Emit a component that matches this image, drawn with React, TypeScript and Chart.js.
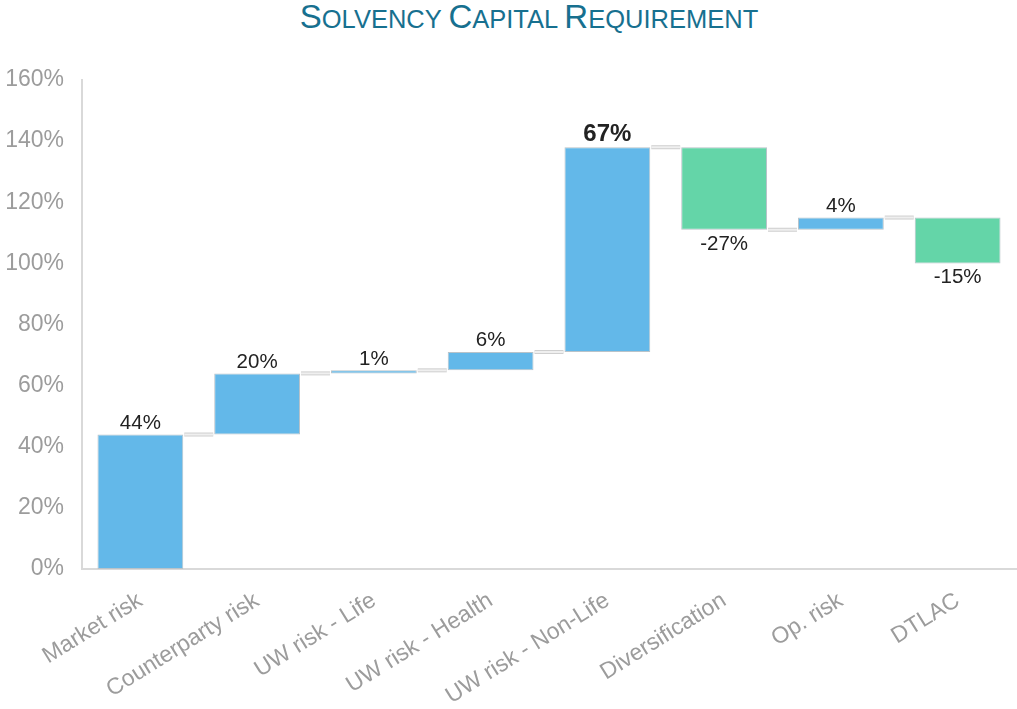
import React, { useEffect, useRef } from "react";
import { Chart, registerables } from "chart.js";

Chart.register(...registerables);

const categories = [
  "Market risk",
  "Counterparty risk",
  "UW risk - Life",
  "UW risk - Health",
  "UW risk - Non-Life",
  "Diversification",
  "Op. risk",
  "DTLAC",
];
const deltas = [44, 20, 1, 6, 67, -27, 4, -15];
const yTicks = [0, 20, 40, 60, 80, 100, 120, 140, 160];
const boldIndex = 4;

const BLUE = "#63b8e9";
const GREEN = "#64d5a8";

const ranges: [number, number][] = [];
{
  let run = 0;
  for (const d of deltas) {
    ranges.push([run, run + d]);
    run += d;
  }
}

const waterfallPlugin = {
  id: "waterfallExtras",
  afterDatasetsDraw(chart: any) {
    const ctx = chart.ctx;
    const meta = chart.getDatasetMeta(0);
    const y = chart.scales.y;
    ctx.save();
    // connectors
    for (let i = 0; i < ranges.length - 1; i++) {
      const a = meta.data[i];
      const b = meta.data[i + 1];
      const level = ranges[i][1];
      const yy = y.getPixelForValue(level);
      const x1 = a.x + a.width / 2 + 1;
      const x2 = b.x - b.width / 2 - 1;
      ctx.strokeStyle = "#cfcfcf";
      ctx.lineWidth = 4;
      ctx.beginPath();
      ctx.moveTo(x1, yy);
      ctx.lineTo(x2, yy);
      ctx.stroke();
      ctx.strokeStyle = "#efefef";
      ctx.lineWidth = 2;
      ctx.beginPath();
      ctx.moveTo(x1, yy);
      ctx.lineTo(x2, yy);
      ctx.stroke();
    }
    // labels
    ctx.textAlign = "center";
    ctx.fillStyle = "#222222";
    meta.data.forEach((el: any, i: number) => {
      const d = deltas[i];
      const bold = i === boldIndex;
      ctx.font = (bold ? "bold 24px" : "20.5px") + " 'Liberation Sans', Arial, sans-serif";
      const label = d + "%";
      if (d >= 0) {
        ctx.textBaseline = "bottom";
        const top = y.getPixelForValue(ranges[i][1]);
        ctx.fillText(label, el.x, top - 1);
      } else {
        ctx.textBaseline = "top";
        const bot = y.getPixelForValue(ranges[i][1]);
        ctx.fillText(label, el.x, bot + 4);
      }
    });
    ctx.restore();
  },
};

export default function App() {
  const ref = useRef<HTMLCanvasElement>(null);
  useEffect(() => {
    const chart = new Chart(ref.current!, {
      type: "bar",
      data: {
        labels: categories,
        datasets: [
          {
            data: ranges as any,
            backgroundColor: deltas.map((d) => (d >= 0 ? BLUE : GREEN)),
            borderColor: "#b9c3c9",
            borderWidth: 1,
            borderSkipped: false,
            barPercentage: 0.735,
            categoryPercentage: 1,
          },
        ],
      },
      options: {
        animation: false,
        responsive: false,
        layout: { padding: { top: 80, right: 1, left: 0, bottom: 0 } },
        plugins: {
          legend: { display: false },
          tooltip: { enabled: false },
          title: { display: false },
        },
        scales: {
          x: {
            grid: { display: false, drawTicks: false },
            border: { color: "#d9d9d9", width: 2 },
            ticks: {
              color: "#9c9c9c",
              font: { family: "'Liberation Sans', Arial, sans-serif", size: 23 },
              maxRotation: 32,
              minRotation: 32,
              padding: 18,
              autoSkip: false,
            },
            afterFit: (s: any) => {
              s.height = 140;
            },
          },
          y: {
            min: 0,
            max: 160,
            grid: { display: false, drawTicks: false },
            border: { color: "#d9d9d9", width: 2 },
            afterBuildTicks: (s: any) => {
              s.ticks = yTicks.map((v) => ({ value: v }));
            },
            ticks: {
              color: "#9c9c9c",
              font: { family: "'Liberation Sans', Arial, sans-serif", size: 23 },
              padding: 18,
              callback: (v: any) => v + "%",
            },
            afterFit: (s: any) => {
              s.width = 82;
            },
          },
        },
      },
      plugins: [waterfallPlugin],
    });
    return () => chart.destroy();
  }, []);

  const big = { fontSize: 33 };
  const small = { fontSize: 25.5 };
  return (
    <div style={{ position: "absolute", left: 0, top: 0, width: 1017, height: 709, background: "#fff" }}>
      <div
        style={{
          position: "absolute",
          top: -3,
          left: 0,
          width: 1058,
          textAlign: "center",
          color: "#17708f",
          fontFamily: "'Liberation Sans', Arial, sans-serif",
          whiteSpace: "pre",
          lineHeight: "40px",
        }}
      >
        <span style={big}>S</span>
        <span style={small}>OLVENCY </span>
        <span style={big}>C</span>
        <span style={small}>APITAL </span>
        <span style={big}>R</span>
        <span style={small}>EQUIREMENT</span>
      </div>
      <canvas ref={ref} width={1017} height={709} style={{ position: "absolute", left: 0, top: 0 }} />
    </div>
  );
}
